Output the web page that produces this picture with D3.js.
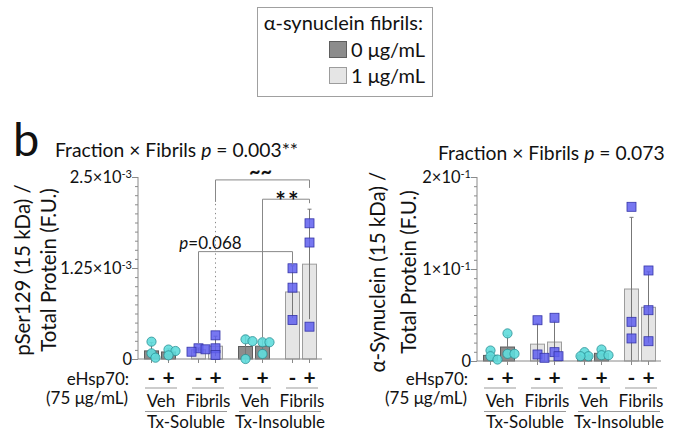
<!DOCTYPE html>
<html>
<head>
<meta charset="utf-8">
<script src="https://cdn.jsdelivr.net/npm/d3@7"></script>
<style>
  body { margin: 0; background: #fff; }
  svg text { font-family: Lato, "Open Sans", sans-serif; fill: #111; }
</style>
</head>
<body>
<script>
//conditions, in plotting order
var fractions = ["Tx-Soluble", "Tx-Insoluble"];
var treatments = ["Veh", "Fibrils"];
var eHsp = ["-", "+"];

//individual replicates, pSer129 / total protein (x 1e-3)
var pserPoints = [
  [0.238, 0.078, 0.018],
  [0.13, 0.11, 0.05],
  [0.147, 0.10, 0.133],
  [0.325, 0.147, 0.055],
  [0.27, 0.245, 0.0],
  [0.23, 0.23, 0.069],
  [1.246, 0.98, 0.536],
  [1.864, 1.60, 0.444]
];

//individual replicates, alpha-synuclein / total protein
var synPoints = [
  [0.0114, 0.0052, 0.0016],
  [0.030, 0.0078, 0.0078],
  [0.0443, 0.0071, 0.0035],
  [0.047, 0.0096, 0.0052],
  [0.0096, 0.0052, 0.0052],
  [0.0125, 0.0063, 0.0063],
  [0.1676, 0.0426, 0.0245],
  [0.0984, 0.0552, 0.0215]
];

//y axis ticks
var pserTicks = [0, 1.25e-3, 2.5e-3];
var pserTickLabels = [["0", ""], ["1.25×10", "-3"], ["2.5×10", "-3"]];
var synTicks = [0, 0.1, 0.2];
var synTickLabels = [["0", ""], ["1×10", "-1"], ["2×10", "-1"]];

//significance brackets on the pSer129 panel (condition indices, level in data units)
var pserBrackets = [
  {a: 3, b: 7, level: 2.46e-3, label: "~~"},
  {a: 5, b: 7, level: 2.195e-3, label: "**"},
  {a: 2, b: 6, level: 1.475e-3, label: "p=0.068"}
];

var width = 683, height = 437;

var svg = d3.select("body")
  .append("svg")
  .attr("width", width)
  .attr("height", height);

//build list of 8 conditions
var conditions = [];
fractions.forEach(function(f){
  treatments.forEach(function(t){
    eHsp.forEach(function(e){
      conditions.push({fraction: f, treatment: t, ehsp: e, group: f + "|" + t});
    });
  });
});
var groupKeys = [];
conditions.forEach(function(c){ if (groupKeys.indexOf(c.group) < 0) groupKeys.push(c.group); });

var axisColor = "#8a8a8a",
  darkFill = "#8c8c8c", darkStroke = "#5e5e5e",
  lightFill = "#e5e5e5", lightStroke = "#9c9c9c";

//legend
var legend = svg.append("g");
legend.append("rect")
  .attr("x", 257.5).attr("y", 7.5).attr("width", 175).attr("height", 89)
  .attr("fill", "#fff").attr("stroke", "#a0a0a0");
legend.append("text")
  .attr("x", 423).attr("y", 30).attr("text-anchor", "end")
  .style("font-size", "20px").text("α-synuclein fibrils:");
[["0 μg/mL", darkFill, darkStroke], ["1 μg/mL", lightFill, lightStroke]].forEach(function(d, i){
  legend.append("rect")
    .attr("x", 329.5).attr("y", 41.5 + i * 26).attr("width", 17).attr("height", 16)
    .attr("fill", d[1]).attr("stroke", d[2]);
  legend.append("text")
    .attr("x", 351).attr("y", 57 + i * 26)
    .style("font-size", "20px").text(d[0]);
});

//panel letter
svg.append("text").attr("x", 13).attr("y", 156)
  .style("font-size", "47px").text("b");

function drawPanel(cfg){
  var g = svg.append("g").attr("transform", "translate(" + cfg.dx + ",0)");

  var y = d3.scaleLinear().domain([0, cfg.max]).range([cfg.zeroY, 177]);

  //group and -/+ positions
  var xGroup = d3.scaleBand().domain(groupKeys).range([136.5, 324.5]);
  var xInner = d3.scalePoint().domain(eHsp).range([-8.5, 8.5]);
  function xc(c){ return xGroup(c.group) + xGroup.bandwidth() / 2 + xInner(c.ehsp); }

  //stats
  var stats = cfg.points.map(function(p, i){
    return {c: conditions[i], pts: p, mean: d3.mean(p), sd: d3.deviation(p)};
  });

  //title
  var title = g.append("text").attr("x", cfg.titleX).attr("y", cfg.titleY)
    .style("font-size", "19.3px");
  title.append("tspan").text("Fraction × Fibrils ");
  title.append("tspan").style("font-style", "italic").text("p");
  title.append("tspan").text(" = " + cfg.pText);

  //y axis
  var yAxis = d3.axisLeft(y).tickValues(d3.range(0, 21).map(function(i){ return cfg.max * i / 20; }))
    .tickSize(3).tickFormat("");
  var ya = g.append("g").attr("transform", "translate(138,0)").call(yAxis);
  ya.select(".domain").attr("stroke", axisColor).attr("d", "M0," + y(cfg.max) + "V" + cfg.zeroY);
  ya.selectAll(".tick line").attr("stroke", axisColor);
  ya.selectAll(".tick")
    .filter(function(d){ return cfg.ticks.some(function(t){ return Math.abs(t - d) < 1e-9; }); })
    .select("line").attr("x2", -6);

  //tick labels with superscript
  cfg.ticks.forEach(function(t, i){
    var lab = g.append("text").attr("x", 132).attr("y", y(t)).attr("dy", "0.34em")
      .attr("text-anchor", "end").style("font-size", "16.5px");
    lab.append("tspan").text(cfg.tickLabels[i][0]);
    if (cfg.tickLabels[i][1]) lab.append("tspan").attr("dy", "-0.45em")
      .style("font-size", "11px").text(cfg.tickLabels[i][1]);
  });

  //y title
  cfg.yTitle.forEach(function(line, i){
    g.append("text")
      .attr("transform", "translate(" + cfg.yTitleX[i] + "," + cfg.yTitleMid + ") rotate(-90)")
      .attr("text-anchor", "middle").style("font-size", "20.5px").text(line);
  });

  //bars
  g.selectAll(".bar").data(stats).enter().append("rect")
    .attr("class", "bar")
    .attr("x", function(d){ return xc(d.c) - 7; })
    .attr("width", 14)
    .attr("y", function(d){ return y(d.mean); })
    .attr("height", function(d){ return cfg.zeroY - y(d.mean); })
    .attr("fill", function(d){ return d.c.treatment === "Veh" ? darkFill : lightFill; })
    .attr("stroke", function(d){ return d.c.treatment === "Veh" ? darkStroke : lightStroke; })
    .attr("stroke-width", 1);

  //error bars (mean +/- SD)
  var eb = g.selectAll(".err").data(stats).enter().append("g").attr("class", "err")
    .attr("stroke", "#777").attr("stroke-width", 1);
  eb.append("line")
    .attr("x1", function(d){ return xc(d.c); }).attr("x2", function(d){ return xc(d.c); })
    .attr("y1", function(d){ return y(Math.max(0, d.mean - d.sd)); })
    .attr("y2", function(d){ return y(d.mean + d.sd); });
  eb.append("line")
    .attr("x1", function(d){ return xc(d.c) - 2; }).attr("x2", function(d){ return xc(d.c) + 2; })
    .attr("y1", function(d){ return y(d.mean + d.sd); })
    .attr("y2", function(d){ return y(d.mean + d.sd); });

  //x axis
  var xa = g.append("g").attr("stroke", axisColor);
  xa.append("line").attr("x1", 138).attr("x2", 322).attr("y1", cfg.zeroY).attr("y2", cfg.zeroY);
  conditions.forEach(function(c){
    xa.append("line").attr("x1", xc(c)).attr("x2", xc(c))
      .attr("y1", cfg.zeroY).attr("y2", cfg.zeroY + 4);
  });

  //points: small dodge so overlapping replicates spread sideways
  stats.forEach(function(s){
    var placed = [];
    var sorted = s.pts.slice().sort(function(a, b){ return b - a; });
    sorted.forEach(function(v){
      var py = y(v), dx = 0, tries = [0, 4, -4, 7, -7];
      for (var k = 0; k < tries.length; k++){
        var ok = placed.every(function(p){
          return Math.hypot(p[0] - tries[k], p[1] - py) > 5.5;
        });
        if (ok){ dx = tries[k]; break; }
      }
      placed.push([dx, py]);
    });
    placed.forEach(function(p){
      if (s.c.treatment === "Veh"){
        g.append("circle").attr("cx", xc(s.c) + p[0]).attr("cy", p[1]).attr("r", 4.6)
          .attr("fill", "#5fdcdc").attr("fill-opacity", 0.9)
          .attr("stroke", "#2b8f94").attr("stroke-width", 0.8);
      } else {
        g.append("rect").attr("x", xc(s.c) + p[0] - 4.5).attr("y", p[1] - 4.5)
          .attr("width", 9).attr("height", 9)
          .attr("fill", "#5f5fee").attr("fill-opacity", 0.85)
          .attr("stroke", "#3535a8").attr("stroke-width", 0.8);
      }
    });
  });

  //brackets
  (cfg.brackets || []).forEach(function(b){
    var xa1 = xc(conditions[b.a]), xb1 = xc(conditions[b.b]), ly = y(b.level);
    var leftEnd = y(d3.max(cfg.points[b.a])) - 5;
    var right = b.b === 7 ? (b.label === "~~" ? ly + 8 : ly + 4) : y(d3.max(cfg.points[b.b])) - 4;
    var bg = g.append("g").attr("stroke", "#888").attr("fill", "none");
    if (b.label === "~~"){
      bg.append("path").attr("d", "M" + xa1 + "," + (ly + 22) + "V" + ly + "H" + xb1 + "V" + right);
      bg.append("line").attr("x1", xa1).attr("x2", xa1).attr("y1", ly + 24).attr("y2", leftEnd)
        .attr("stroke-dasharray", "1.3,3.2");
    } else {
      bg.append("path").attr("d", "M" + xa1 + "," + leftEnd + "V" + ly + "H" + xb1 + "V" + right);
    }
    var mid = (xa1 + xb1) / 2;
    if (b.label === "~~"){
      g.append("text").attr("x", mid - 2).attr("y", ly - 1).attr("text-anchor", "middle")
        .style("font-size", "20px").style("font-weight", "bold").text("~~");
    } else if (b.label === "**"){
      g.append("text").attr("x", mid + 2).attr("y", ly + 11).attr("text-anchor", "middle")
        .style("font-size", "25px").style("font-weight", "bold").style("letter-spacing", "2px").text("**");
    } else {
      var t = g.append("text").attr("x", mid - 35).attr("y", ly - 3).attr("text-anchor", "middle")
        .style("font-size", "17px");
      t.append("tspan").style("font-style", "italic").text("p");
      t.append("tspan").text("=0.068");
    }
  });

  //x labels
  var lab = g.append("g");
  lab.append("text").attr("x", 129).attr("y", 385).attr("text-anchor", "end")
    .style("font-size", "17px").text("eHsp70:");
  lab.append("text").attr("x", 128).attr("y", 404).attr("text-anchor", "end")
    .style("font-size", "17px").text("(75 μg/mL)");
  conditions.forEach(function(c){
    lab.append("text").attr("x", xc(c)).attr("y", 385).attr("text-anchor", "middle")
      .style("font-size", "21px").style("font-weight", "bold").text(c.ehsp === "-" ? "-" : "+");
  });
  groupKeys.forEach(function(k){
    var cx = xGroup(k) + xGroup.bandwidth() / 2;
    lab.append("line").attr("x1", cx - 15).attr("x2", cx + 17)
      .attr("y1", 388).attr("y2", 388).attr("stroke", "#999");
    lab.append("text").attr("x", cx + 1).attr("y", 407).attr("text-anchor", "middle")
      .style("font-size", "17px").text(k.split("|")[1]);
  });
  fractions.forEach(function(f){
    var keys = groupKeys.filter(function(k){ return k.split("|")[0] === f; });
    var x1 = xGroup(keys[0]) + xGroup.bandwidth() / 2 - 15,
      x2 = xGroup(keys[keys.length - 1]) + xGroup.bandwidth() / 2 + 20;
    lab.append("line").attr("x1", x1).attr("x2", x2)
      .attr("y1", 411.5).attr("y2", 411.5).attr("stroke", "#999");
    lab.append("text").attr("x", (x1 + x2) / 2).attr("y", 428).attr("text-anchor", "middle")
      .style("font-size", "17px").text(f);
  });
}

drawPanel({
  dx: 0, max: 2.5e-3, zeroY: 359,
  points: pserPoints.map(function(p){ return p.map(function(v){ return v * 1e-3; }); }),
  ticks: pserTicks, tickLabels: pserTickLabels,
  titleX: 55, titleY: 157, pText: "0.003**",
  yTitle: ["pSer129 (15 kDa) /", "Total Protein (F.U.)"], yTitleX: [30, 56], yTitleMid: 270,
  brackets: pserBrackets
});

drawPanel({
  dx: 339, max: 0.2, zeroY: 361,
  points: synPoints,
  ticks: synTicks, tickLabels: synTickLabels,
  titleX: 99, titleY: 160, pText: "0.073",
  yTitle: ["α-Synuclein (15 kDa) /", "Total Protein (F.U.)"], yTitleX: [46, 77], yTitleMid: 272,
  brackets: []
});
</script>
</body>
</html>
